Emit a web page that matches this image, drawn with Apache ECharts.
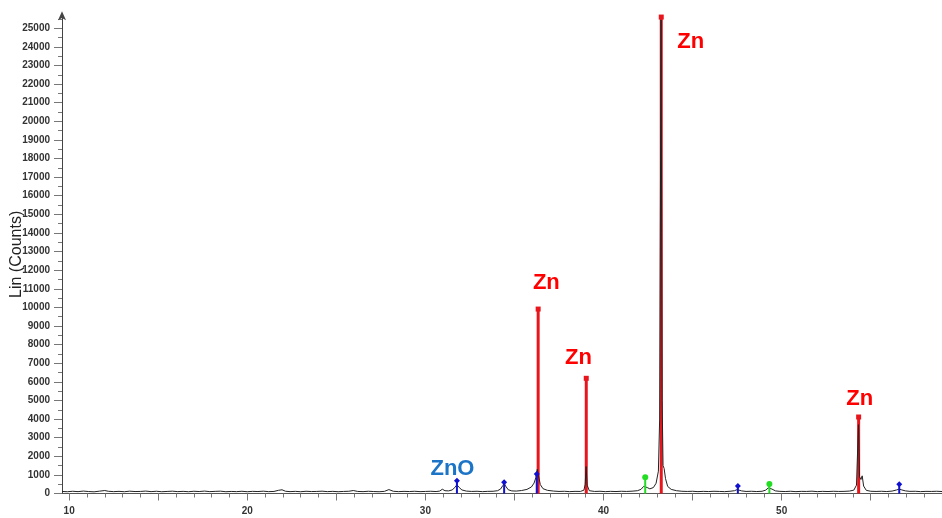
<!DOCTYPE html>
<html>
<head>
<meta charset="utf-8">
<script src="https://cdn.jsdelivr.net/npm/echarts@6/dist/echarts.min.js"></script>
<style>
html,body{margin:0;padding:0;background:#fff;}
#chart{width:942px;height:518px;}
</style>
</head>
<body>
<div id="chart"></div>
<script>
// ---- Data ----
// measured XRD pattern: [2theta, counts]
const pattern = [
[9.6,110],[9.9,95],[10.2,120],[10.5,100],[10.8,130],[11.1,105],[11.4,90],[11.7,125],[12.0,160],[12.2,120],
[12.5,100],[12.8,115],[13.1,95],[13.4,125],[13.7,105],[14.0,110],[14.3,130],[14.6,100],[14.9,120],[15.2,95],
[15.5,110],[15.8,125],[16.1,100],[16.4,115],[16.7,95],[17.0,120],[17.3,105],[17.6,130],[17.9,100],[18.2,115],
[18.5,125],[18.8,95],[19.1,110],[19.4,100],[19.7,120],[20.0,95],[20.3,115],[20.6,105],[20.9,125],[21.2,100],
[21.5,110],[21.75,170],[21.95,200],[22.15,120],[22.4,100],[22.7,115],[23.0,95],[23.3,120],[23.6,105],[23.9,110],
[24.2,125],[24.5,100],[24.8,115],[25.1,95],[25.4,110],[25.7,120],[25.95,160],[26.2,110],[26.5,100],[26.8,120],
[27.1,105],[27.4,95],[27.7,115],[27.95,210],[28.2,120],[28.5,100],[28.8,115],[29.1,105],[29.4,120],[29.7,100],
[30.0,110],[30.3,120],[30.6,105],[30.8,130],[30.95,230],[31.1,150],[31.3,140],[31.5,190],[31.65,320],[31.77,470],
[31.9,320],[32.05,190],[32.3,130],[32.6,110],[32.9,120],[33.2,100],[33.5,115],[33.8,120],[34.05,150],[34.22,240],
[34.35,430],[34.42,560],[34.5,400],[34.65,200],[34.85,140],[35.1,130],[35.4,160],[35.7,220],[35.95,350],[36.1,560],
[36.2,850],[36.28,1300],[36.35,950],[36.45,480],[36.6,260],[36.85,170],[37.2,130],[37.5,110],[37.8,120],[38.1,100],
[38.4,115],[38.7,110],[38.9,180],[38.97,500],[39.02,1450],[39.08,450],[39.2,150],[39.5,110],[39.8,120],[40.1,100],
[40.4,115],[40.7,105],[41.0,120],[41.3,110],[41.6,125],[41.9,150],[42.1,220],[42.25,380],[42.33,450],[42.45,320],
[42.6,250],[42.8,320],[42.95,550],[43.08,1200],[43.15,4000],[43.23,25450],[43.29,5000],[43.34,1500],[43.4,1350],[43.48,800],
[43.6,380],[43.8,220],[44.1,150],[44.4,120],[44.7,110],[45.0,120],[45.3,100],[45.6,115],[45.9,105],[46.2,120],
[46.5,110],[46.8,100],[47.1,120],[47.35,150],[47.5,210],[47.6,200],[47.75,140],[48.0,110],[48.3,120],[48.6,105],
[48.9,120],[49.1,180],[49.25,300],[49.33,340],[49.45,240],[49.65,140],[49.9,115],[50.2,105],[50.5,120],[50.8,100],
[51.1,115],[51.4,110],[51.7,125],[52.0,100],[52.3,115],[52.6,105],[52.9,120],[53.2,110],[53.5,115],[53.8,130],
[54.05,180],[54.2,450],[54.31,3700],[54.37,900],[54.45,750],[54.52,950],[54.6,400],[54.75,170],[55.0,120],[55.3,110],
[55.6,120],[55.9,105],[56.2,130],[56.45,190],[56.6,240],[56.75,190],[56.95,140],[57.2,115],[57.5,120],[57.8,100],
[58.1,115],[58.4,110],[58.7,120],[59.0,105]
];
// reference sticks [2theta, counts]
const znSticks = [[36.33,9910],[39.03,6190],[43.24,25600],[54.32,4110]];
const znoSticks = [[31.77,690],[34.42,600],[36.25,1050],[47.54,400],[56.6,495]];
const greenSticks = [[42.34,870],[49.31,510]];
// annotation texts [2theta, counts, text]
const znLabels = [[44.89,24280,'Zn'],[36.79,11290,'Zn'],[38.59,7260,'Zn'],[54.38,5100,'Zn']];
const znoLabels = [[31.52,1330,'ZnO']];
// axis ticks and labels
const xLabelValues = [10,20,30,40,50];
const xMajorTicks = [10,15,20,25,30,35,40,45,50,55];
const xMinorTicks = [10,11,12,13,14,15,16,17,18,19,20,21,22,23,24,25,26,27,28,29,30,31,32,33,34,35,36,37,38,39,40,41,42,43,44,45,46,47,48,49,50,51,52,53,54,55,56,57,58];
const yMajorTicks = [0,1000,2000,3000,4000,5000,6000,7000,8000,9000,10000,11000,12000,13000,14000,15000,16000,17000,18000,19000,20000,21000,22000,23000,24000,25000];
const yMinorTicks = [500,1500,2500,3500,4500,5500,6500,7500,8500,9500,10500,11500,12500,13500,14500,15500,16500,17500,18500,19500,20500,21500,22500,23500,24500,25500];
const xMin = 9.6, xMax = 59, yMin = 0, yMax = 25700;

// ---- Chart ----
const chart = echarts.init(document.getElementById('chart'), null, {renderer:'canvas'});
const font = 'Liberation Sans, Arial, sans-serif';

function stickSeries(data, color, width, z){
  return {
    type:'custom', z:z, silent:true,
    data:data,
    renderItem:function(params, api){
      const p0 = api.coord([api.value(0), 0]);
      const p1 = api.coord([api.value(0), api.value(1)]);
      return {type:'line', shape:{x1:p0[0],y1:p0[1],x2:p1[0],y2:p1[1]}, style:{stroke:color, lineWidth:width}};
    }
  };
}
function markerSeries(data, symbol, size, color, z){
  return {type:'scatter', z:z, silent:true, symbol:symbol, symbolSize:size, itemStyle:{color:color, opacity:1}, data:data};
}
function labelSeries(data, color){
  return {
    type:'scatter', z:10, silent:true, symbolSize:0, itemStyle:{color:color, opacity:1},
    data:data.map(d=>({value:[d[0],d[1]], name:d[2]})),
    label:{show:true, position:'inside', formatter:p=>p.name, color:color, opacity:1, fontFamily:font, fontWeight:'bold', fontSize:22}
  };
}

const option = {
  animation:false,
  backgroundColor:'#fff',
  grid:{left:62, right:0, top:15.2, bottom:24.5, containLabel:false, outerBoundsMode:'none'},
  xAxis:[
    {type:'value', min:xMin, max:xMax, position:'bottom',
     axisLine:{show:true, onZero:false, lineStyle:{color:'#555', width:1}},
     axisTick:{show:true, customValues:xMajorTicks, length:7, lineStyle:{color:'#777'}},
     axisLabel:{show:true, customValues:xLabelValues, margin:13, color:'#333', fontSize:10, fontFamily:font, fontWeight:'bold'},
     splitLine:{show:false}},
    {type:'value', min:xMin, max:xMax, position:'bottom',
     axisLine:{show:false},
     axisTick:{show:true, customValues:xMinorTicks, length:4, lineStyle:{color:'#777'}},
     axisLabel:{show:false}, splitLine:{show:false}}
  ],
  yAxis:[
    {type:'value', min:yMin, max:yMax, position:'left',
     name:'Lin (Counts)', nameLocation:'middle', nameRotate:90, nameGap:37, nameMoveOverlap:false,
     nameTextStyle:{fontFamily:font, fontSize:16, color:'#222'},
     axisLine:{show:true, lineStyle:{color:'#444', width:1}, symbol:['none','arrow'], symbolSize:[6,9], symbolOffset:[0,4]},
     axisTick:{show:true, customValues:yMajorTicks, length:8, lineStyle:{color:'#777'}},
     axisLabel:{show:true, customValues:yMajorTicks, formatter:v=>String(v), margin:12, color:'#333', fontSize:10, fontFamily:font, fontWeight:'bold'},
     splitLine:{show:false}},
    {type:'value', min:yMin, max:yMax, position:'left',
     axisLine:{show:false},
     axisTick:{show:true, customValues:yMinorTicks, length:4, lineStyle:{color:'#777'}},
     axisLabel:{show:false}, splitLine:{show:false}}
  ],
  series:[
    stickSeries(znSticks, '#E8161C', 3, 1),
    {type:'line', z:2, silent:true, data:pattern, showSymbol:false, symbol:'none',
     lineStyle:{color:'#222', width:1}, itemStyle:{color:'#222'}},
    stickSeries(znoSticks, '#1010D0', 2, 3),
    stickSeries(greenSticks, '#22DD22', 2, 3),
    markerSeries(znSticks, 'rect', 5, '#E8161C', 4),
    markerSeries(znoSticks, 'diamond', 6, '#1010D0', 4),
    markerSeries(greenSticks, 'circle', 6, '#22DD22', 4),
    labelSeries(znLabels, '#FF0000'),
    labelSeries(znoLabels, '#1C74C6')
  ]
};
chart.setOption(option);
</script>
</body>
</html>
